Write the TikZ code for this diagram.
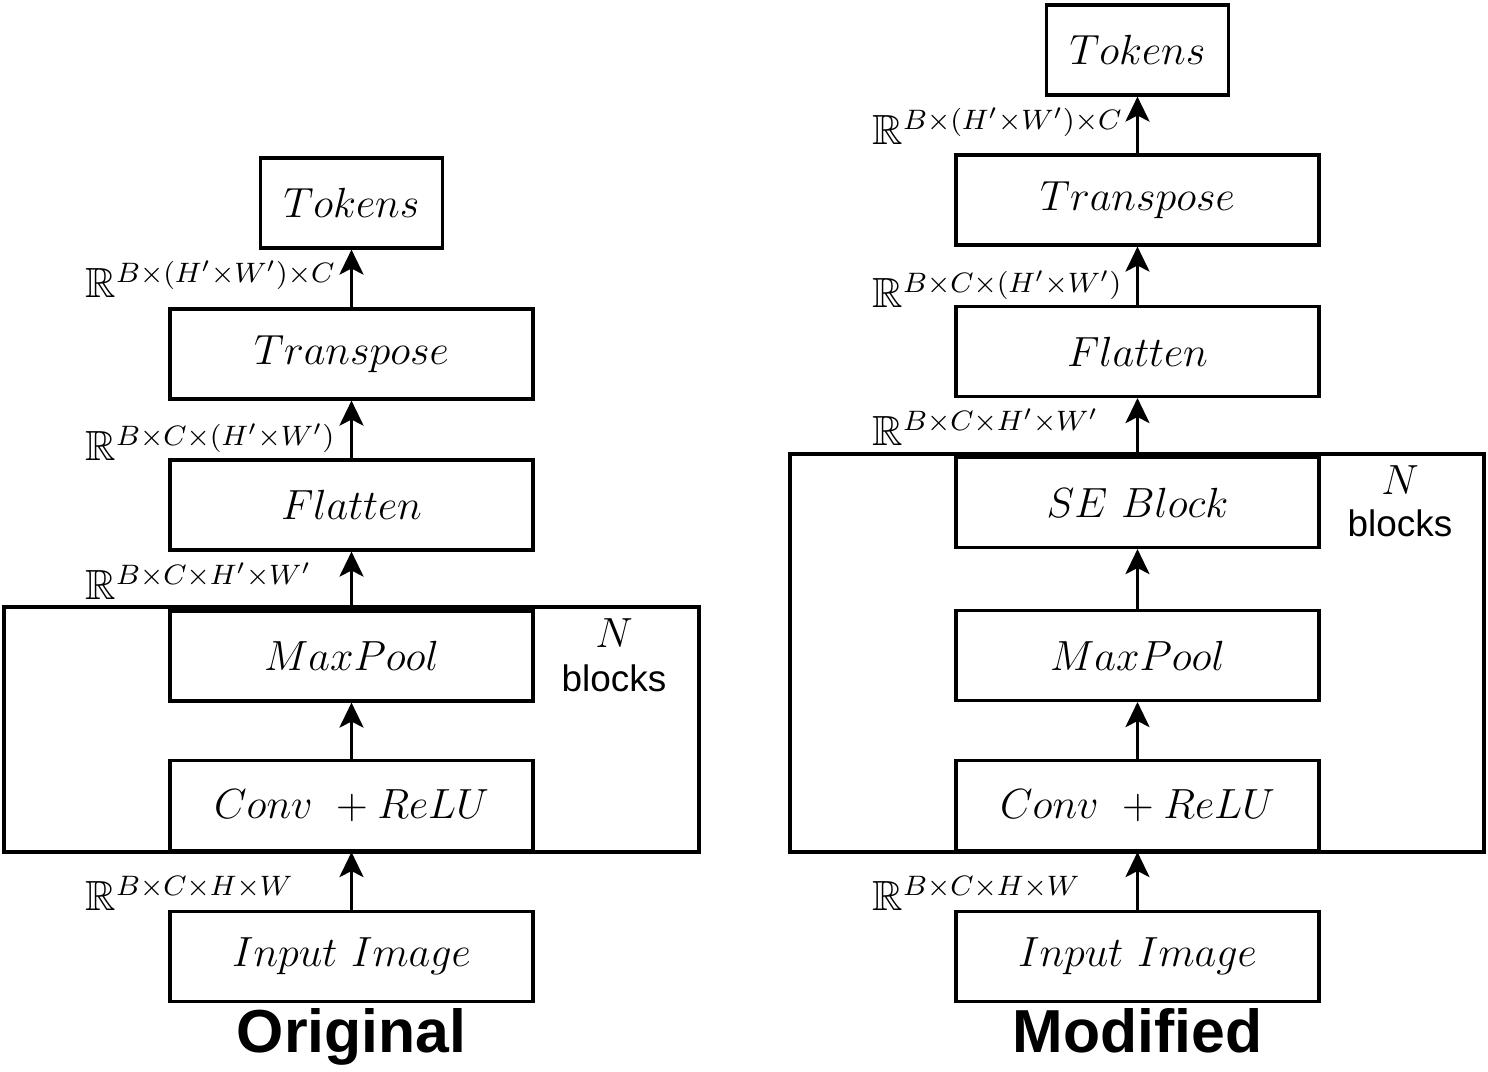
\documentclass[tikz,border=0pt]{standalone}
\usepackage{amssymb}
\usepackage{fontspec}
\setsansfont{Liberation Sans}
\usetikzlibrary{arrows.meta}

\begin{document}
\begin{tikzpicture}[
  layer/.style={draw,line width=0.9pt,minimum width=3.63cm,minimum height=0.9cm,inner sep=0pt,font=\large},
  tokenbox/.style={layer,minimum width=1.82cm},
  flow/.style={-{Stealth[length=2.5mm,width=2.4mm,inset=0.6mm]},line width=0.9pt},
  dimlabel/.style={anchor=base west,inner sep=0pt,font=\large},
  title/.style={anchor=base,inner sep=0pt,font=\LARGE\sffamily\bfseries}
]
\useasboundingbox (0,0) rectangle (14.88,10.72);

% original
\draw[line width=0.9pt] (0.04,4.65) rectangle (6.99,2.20);
\node[layer] (inL) at (3.515,1.155) {$Input\ Image$};
\node[layer] (convL) at (3.515,2.665) {$Conv\ +ReLU$};
\node[layer] (poolL) at (3.515,4.16) {$MaxPool$};
\node[layer] (flatL) at (3.515,5.67) {$Flatten$};
\node[layer] (transL) at (3.515,7.18) {$Transpose$};
\node[tokenbox] (tokL) at (3.515,8.69) {$Tokens$};
\draw[flow] (inL) -- (convL);
\draw[flow] (convL) -- (poolL);
\draw[flow] (poolL) -- (flatL);
\draw[flow] (flatL) -- (transL);
\draw[flow] (transL) -- (tokL);
\node[dimlabel] (sL1) at (0.85,1.61) {$\mathbb{R}^{B\times C\times H\times W}$};
\node[dimlabel] (sL2) at (0.85,4.72) {$\mathbb{R}^{B\times C\times H'\times W'}$};
\node[dimlabel] (sL3) at (0.85,6.11) {$\mathbb{R}^{B\times C\times (H'\times W')}$};
\node[dimlabel] (sL4) at (0.85,7.74) {$\mathbb{R}^{B\times (H'\times W')\times C}$};
\node[font=\large] (nL) at (6.14,4.39) {$N$};
\node[font=\fontsize{10.5}{12}\sffamily] (bL) at (6.14,3.94) {blocks};
\node[title] (origL) at (3.515,0.19) {Original};

% modified
\draw[line width=0.9pt] (7.90,6.18) rectangle (14.84,2.20);
\node[layer] (inR) at (11.375,1.155) {$Input\ Image$};
\node[layer] (convR) at (11.375,2.665) {$Conv\ +ReLU$};
\node[layer] (poolR) at (11.375,4.165) {$MaxPool$};
\node[layer] (seR) at (11.375,5.695) {$SE\ Block$};
\node[layer] (flatR) at (11.375,7.205) {$Flatten$};
\node[layer] (transR) at (11.375,8.72) {$Transpose$};
\node[tokenbox] (tokR) at (11.375,10.22) {$Tokens$};
\draw[flow] (inR) -- (convR);
\draw[flow] (convR) -- (poolR);
\draw[flow] (poolR) -- (seR);
\draw[flow] (seR) -- (flatR);
\draw[flow] (flatR) -- (transR);
\draw[flow] (transR) -- (tokR);
\node[dimlabel] (sR1) at (8.72,1.61) {$\mathbb{R}^{B\times C\times H\times W}$};
\node[dimlabel] (sR2) at (8.72,6.26) {$\mathbb{R}^{B\times C\times H'\times W'}$};
\node[dimlabel] (sR3) at (8.72,7.64) {$\mathbb{R}^{B\times C\times (H'\times W')}$};
\node[dimlabel] (sR4) at (8.72,9.27) {$\mathbb{R}^{B\times (H'\times W')\times C}$};
\node[font=\large] (nR) at (14.00,5.92) {$N$};
\node[font=\fontsize{10.5}{12}\sffamily] (bR) at (14.00,5.49) {blocks};
\node[title] (origR) at (11.375,0.19) {Modified};
\end{tikzpicture}
\end{document}
